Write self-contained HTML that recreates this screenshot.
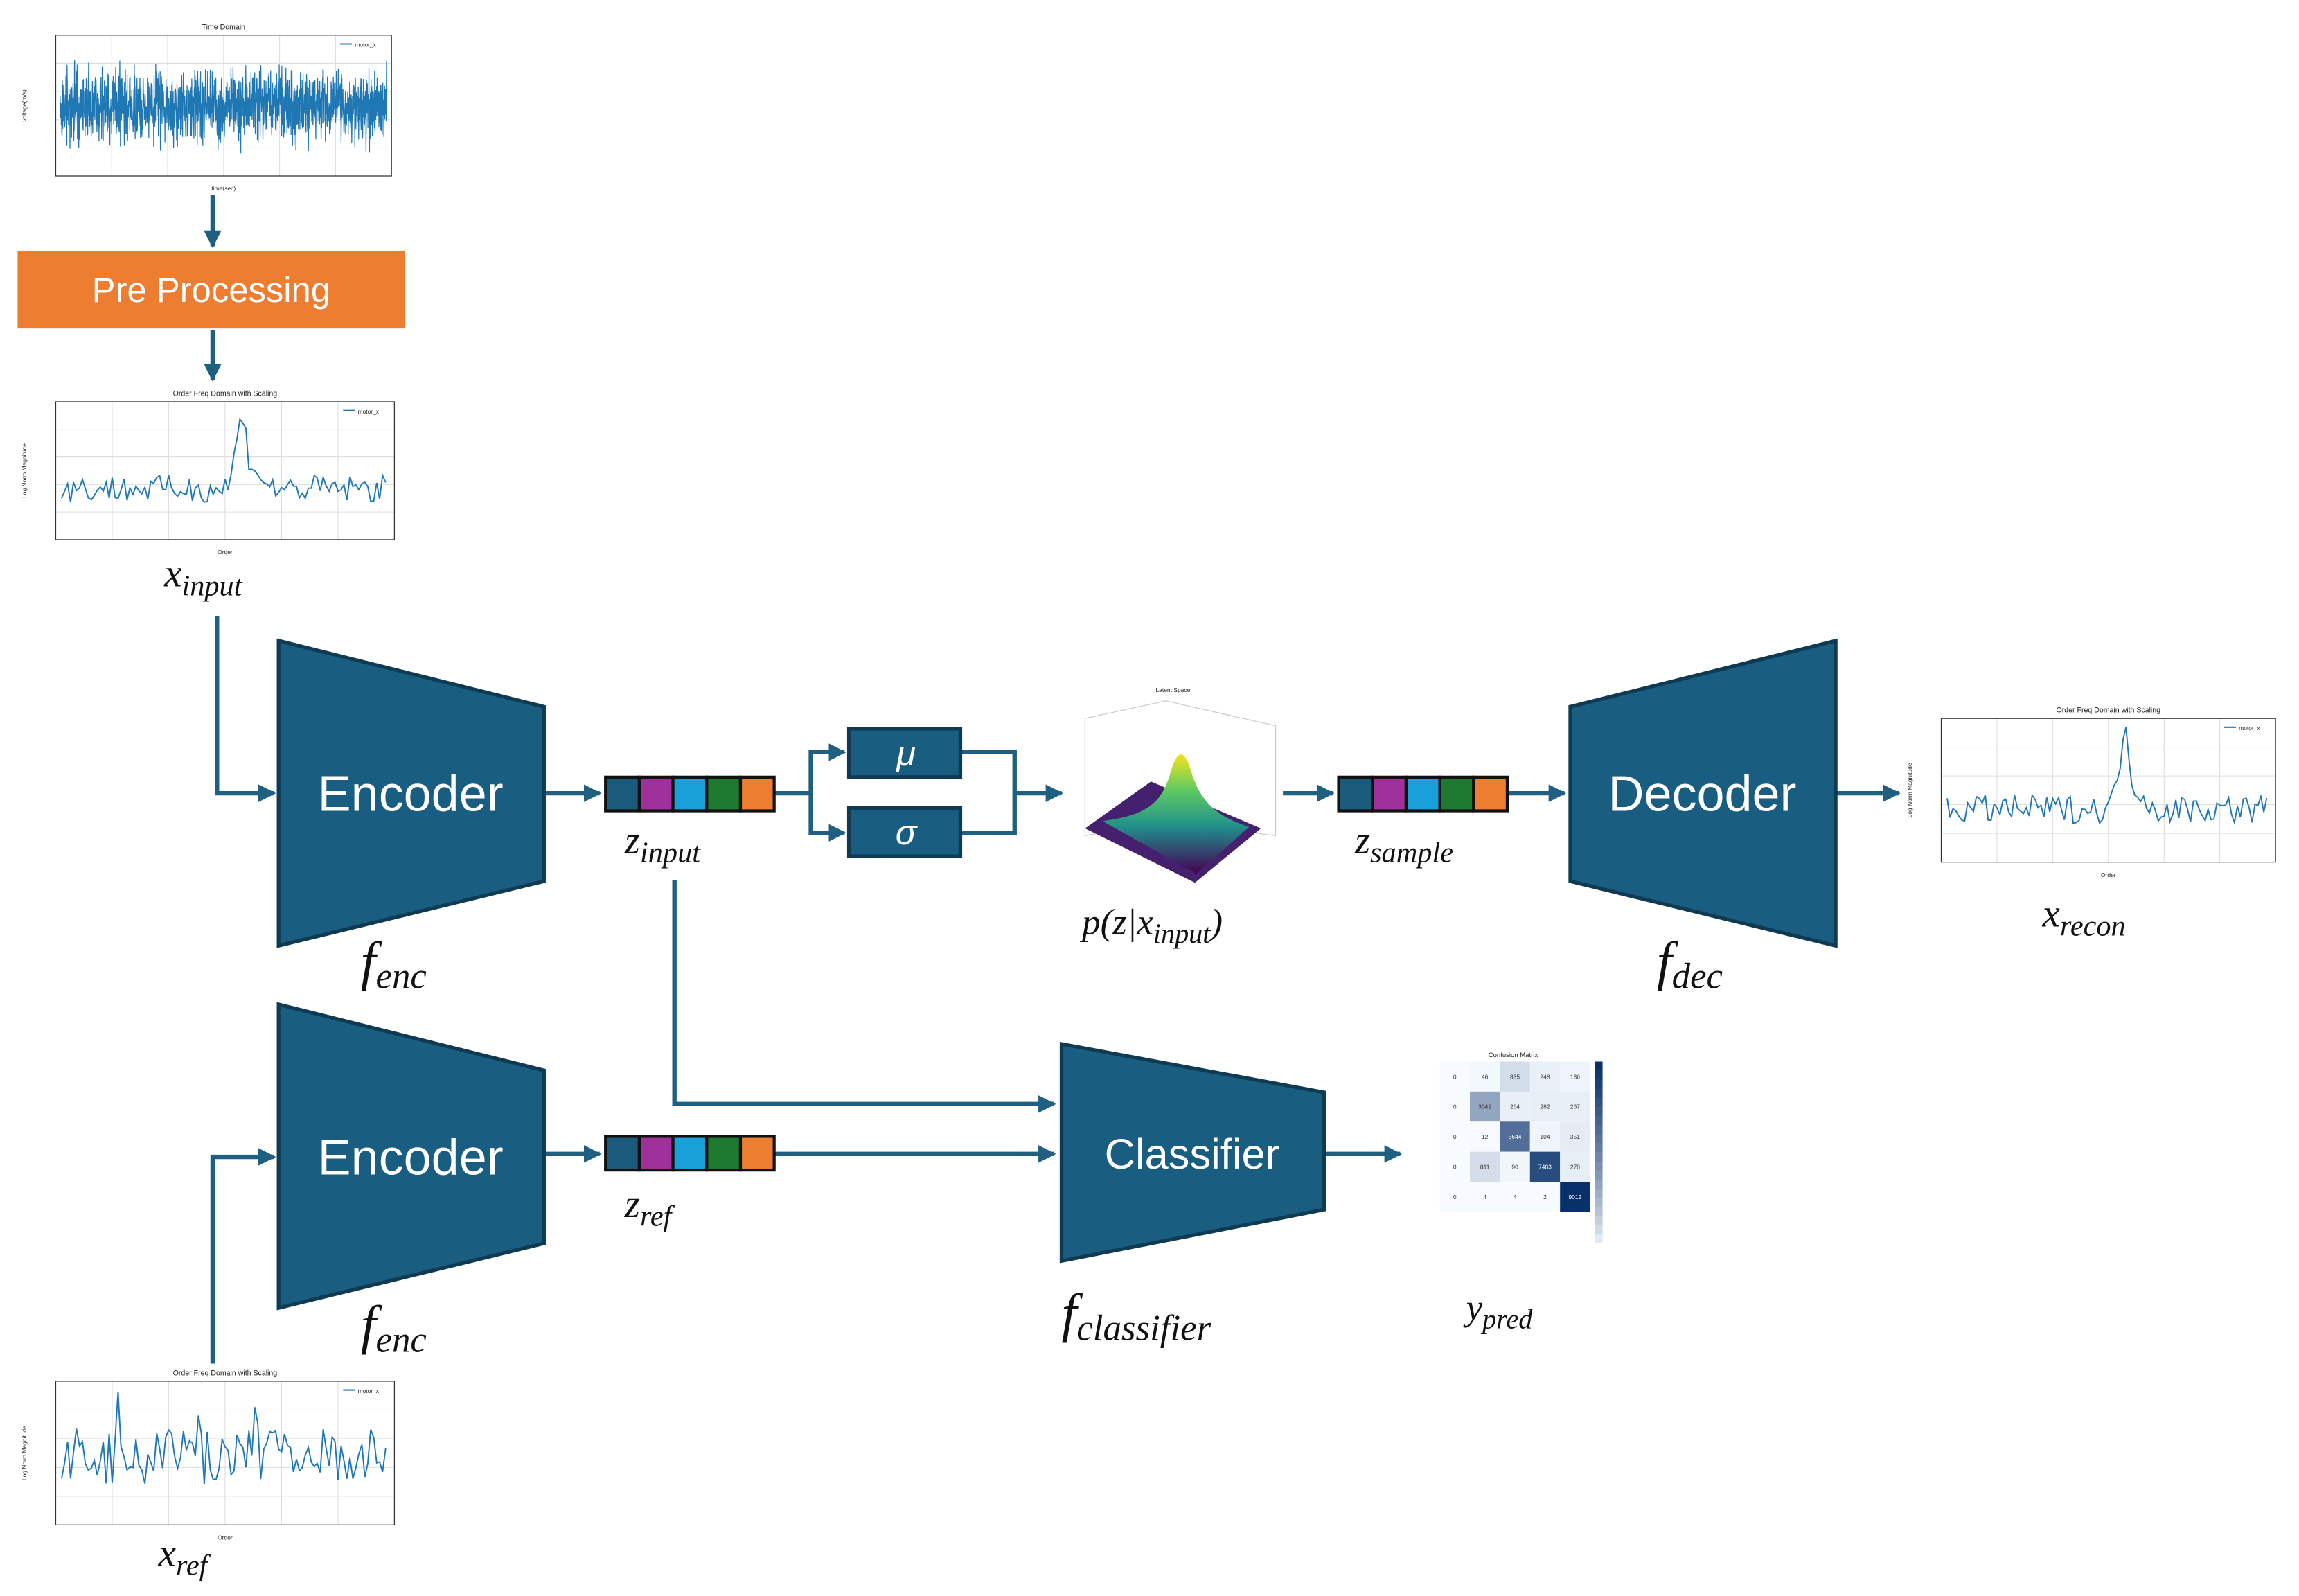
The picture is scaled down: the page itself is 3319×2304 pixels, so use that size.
<!DOCTYPE html>
<html><head><meta charset="utf-8">
<style>
html,body{margin:0;padding:0;background:#fff;}
svg{display:block;}
.m{font-family:"Liberation Serif",serif;font-style:italic;fill:#111;}
.w{font-family:"Liberation Sans",sans-serif;fill:#fff;}
.s{font-family:"Liberation Sans",sans-serif;fill:#222;}
</style></head><body>
<svg id="sv" width="3319" height="2304" viewBox="0 0 1568 1088.5" xmlns="http://www.w3.org/2000/svg">
<defs>
<marker id="ar" viewBox="0 0 10 10" refX="9" refY="5" markerWidth="4" markerHeight="4" orient="auto"><path d="M0,0L10,5L0,10z" fill="#1f5f80"/></marker>
<linearGradient id="gg" x1="0" y1="0" x2="0" y2="1"><stop offset="0" stop-color="#f2e51d"/><stop offset="0.3" stop-color="#5ec962"/><stop offset="0.6" stop-color="#21918c"/><stop offset="1" stop-color="#440154"/></linearGradient>
</defs>
<g id="plots"></g>
<g fill="none" stroke="#1f5f80" stroke-width="3">
<path d="M145,133V168" marker-end="url(#ar)"/>
<path d="M145,225V259" marker-end="url(#ar)"/>
<path d="M148,420V541H187" marker-end="url(#ar)"/>
<path d="M371,541H409" marker-end="url(#ar)"/>
<path d="M528,541H553V513H576" marker-end="url(#ar)"/>
<path d="M553,541V568H576" marker-end="url(#ar)"/>
<path d="M655,513H692V568H655M692,541H724" marker-end="url(#ar)"/>
<path d="M875,541H909" marker-end="url(#ar)"/>
<path d="M1028,541H1067" marker-end="url(#ar)"/>
<path d="M1252,541H1295" marker-end="url(#ar)"/>
<path d="M460,600V753H719" marker-end="url(#ar)"/>
<path d="M145,930V789H187" marker-end="url(#ar)"/>
<path d="M371,787H409" marker-end="url(#ar)"/>
<path d="M528,787H719" marker-end="url(#ar)"/>
<path d="M903,787H955" marker-end="url(#ar)"/>
</g>
<rect x="12" y="171" width="264" height="53" fill="#ed7d31"/>
<text x="144" y="206" text-anchor="middle" class="w" font-size="24">Pre Processing</text>
<g fill="#195e80" stroke="#0f3b52" stroke-width="2.5">
<path d="M190,437L371,482V601L190,645Z"/>
<path d="M190,685L371,730V848L190,892Z"/>
<path d="M1071,482L1252,437V645L1071,601Z"/>
<path d="M724,712L903,745V825L724,860Z"/>
<rect x="579" y="497" width="76" height="33"/>
<rect x="579" y="551" width="76" height="33"/>
</g>
<text x="280" y="553" text-anchor="middle" class="w" font-size="34">Encoder</text>
<text x="280" y="801" text-anchor="middle" class="w" font-size="34">Encoder</text>
<text x="1161" y="553" text-anchor="middle" class="w" font-size="34">Decoder</text>
<text x="813" y="797" text-anchor="middle" class="w" font-size="29">Classifier</text>
<text x="618" y="522" text-anchor="middle" class="w" font-size="24" font-style="italic" font-family="Liberation Serif">μ</text>
<text x="618" y="576" text-anchor="middle" class="w" font-size="24" font-style="italic" font-family="Liberation Serif">σ</text>
<g id="vecs"></g>
<g class="m">
<text x="112" y="400" font-size="27">x<tspan font-size="20" dy="6">input</tspan></text>
<text x="246" y="668" font-size="37">f<tspan font-size="25" dy="6">enc</tspan></text>
<text x="246" y="916" font-size="37">f<tspan font-size="25" dy="6">enc</tspan></text>
<text x="1130" y="668" font-size="37">f<tspan font-size="25" dy="6">dec</tspan></text>
<text x="724" y="908" font-size="37">f<tspan font-size="25" dy="6">classifier</tspan></text>
<text x="426" y="582" font-size="27">z<tspan font-size="20" dy="6">input</tspan></text>
<text x="426" y="830" font-size="27">z<tspan font-size="20" dy="6">ref</tspan></text>
<text x="924" y="582" font-size="27">z<tspan font-size="20" dy="6">sample</tspan></text>
<text x="738" y="637" font-size="25">p(z|x<tspan font-size="19" dy="6">input</tspan><tspan dy="-6">)</tspan></text>
<text x="1393" y="632" font-size="27">x<tspan font-size="20" dy="6">recon</tspan></text>
<text x="108" y="1068" font-size="27">x<tspan font-size="20" dy="6">ref</tspan></text>
<text x="1000" y="900" font-size="25">y<tspan font-size="19" dy="6">pred</tspan></text>
</g>
<g id="lat"></g>
<g id="cm"></g>
</svg>
<script>
var NS="http://www.w3.org/2000/svg";
function el(p,t,a,txt){var e=document.createElementNS(NS,t);for(var k in a)e.setAttribute(k,a[k]);if(txt!==undefined)e.textContent=txt;p.appendChild(e);return e;}
var seed=7;function rnd(){seed=(seed*16807)%2147483647;return seed/2147483647;}
var P=document.getElementById("plots");
function plot(x,y,w,h,title,type,xl,yl){
 var ax=x+26,ay=y+12,aw=w-32,ah=h-24;
 el(P,"rect",{x:x,y:y,width:w,height:h,fill:"#fff"});
 el(P,"text",{x:ax+aw/2,y:y+8,"font-size":5,"text-anchor":"middle",class:"s"},title);
 for(var i=0;i<=6;i++){var gx=ax+aw*i/6;el(P,"line",{x1:gx,y1:ay,x2:gx,y2:ay+ah,stroke:"#ddd","stroke-width":0.5});}
 for(var i=0;i<=5;i++){var gy=ay+ah*i/5;el(P,"line",{x1:ax,y1:gy,x2:ax+aw,y2:gy,stroke:"#ddd","stroke-width":0.5});}
 el(P,"rect",{x:ax,y:ay,width:aw,height:ah,fill:"none",stroke:"#333","stroke-width":0.6});
 el(P,"line",{x1:ax+aw-35,y1:ay+6,x2:ax+aw-27,y2:ay+6,stroke:"#1f77b4","stroke-width":1});
 el(P,"text",{x:ax+aw-25,y:ay+8,"font-size":4,class:"s"},"motor_x");
 el(P,"text",{x:ax+aw/2,y:y+h-2,"font-size":4,"text-anchor":"middle",class:"s"},xl);
 el(P,"text",{x:x+6,y:ay+ah/2,"font-size":4,"text-anchor":"middle",class:"s",transform:"rotate(-90 "+(x+6)+" "+(ay+ah/2)+")"},yl);
 var d="";
 if(type==0){var n=1600;for(var i=0;i<n;i++){var v=(rnd()+rnd()+rnd()-1.5)*0.45;d+=(i?"L":"M")+(ax+3+(aw-6)*i/n).toFixed(1)+","+(ay+ah*0.5+v*ah*0.55).toFixed(1);}
  el(P,"path",{d:d,fill:"none",stroke:"#1f77b4","stroke-width":0.6});}
 else{var n=110;for(var i=0;i<n;i++){var t=i/n;var v=0.3+rnd()*0.22+0.55*Math.exp(-Math.pow((t-0.55)/0.025,2))+0.15*Math.exp(-Math.pow((t-0.6)/0.02,2));if(type==2)v=0.3+rnd()*0.45+ (rnd()<0.06?0.3:0);d+=(i?"L":"M")+(ax+4+(aw-8)*t).toFixed(1)+","+(ay+ah-(v*ah*0.9)).toFixed(1);}
  el(P,"path",{d:d,fill:"none",stroke:"#1f77b4","stroke-width":0.9});}
}
plot(12,12,261,120,"Time Domain",0,"time(sec)","voltage(m/s)");
plot(12,262,263,118,"Order Freq Domain with Scaling",1,"Order","Log Norm Magnitude");
plot(1298,478,260,122,"Order Freq Domain with Scaling",1,"Order","Log Norm Magnitude");
plot(12,930,263,122,"Order Freq Domain with Scaling",2,"Order","Log Norm Magnitude");
var V=document.getElementById("vecs");
var cols=["#1a5a7a","#a0309a","#1aa0d8","#1e7a30","#ed7d31"];
[[413,530],[913,530],[413,775]].forEach(function(p){for(var i=0;i<5;i++)el(V,"rect",{x:p[0]+i*23,y:p[1],width:23,height:23,fill:cols[i],stroke:"#111","stroke-width":2});});
var L=document.getElementById("lat");
el(L,"text",{x:800,y:472,"font-size":4,"text-anchor":"middle",class:"s"},"Latent Space");
el(L,"path",{d:"M740,490L795,478L870,495L870,570L795,560L740,570Z",fill:"none",stroke:"#ccc","stroke-width":0.6});
el(L,"path",{d:"M740,565L815,602L860,565L785,533Z",fill:"#45206e"});
el(L,"path",{d:"M752,560C782,556 792,548 798,528C803,510 808,510 813,528C820,550 834,558 852,564L816,596Z",fill:"url(#gg)"});
var C=document.getElementById("cm");
el(C,"text",{x:1032,y:721,"font-size":4.5,"text-anchor":"middle",class:"s"},"Confusion Matrix");
var cx=982,cy=724,cs=20.5;
function blue(v){var a=[247,251,255],b=[8,48,107];v=Math.pow(v,0.8);return "rgb("+Math.round(a[0]+(b[0]-a[0])*v)+","+Math.round(a[1]+(b[1]-a[1])*v)+","+Math.round(a[2]+(b[2]-a[2])*v)+")";}
var vals=[[0,46,835,248,136],[0,3049,264,282,267],[0,12,5644,104,351],[0,811,90,7483,278],[0,4,4,2,9012]];
for(var r=0;r<5;r++)for(var c=0;c<5;c++){var v=vals[r][c]/9012;
 el(C,"rect",{x:cx+c*cs,y:cy+r*cs,width:cs,height:cs,fill:blue(v)});
 el(C,"text",{x:cx+c*cs+cs/2,y:cy+r*cs+cs/2+1.5,"font-size":4,"text-anchor":"middle",fill:v>0.45?"#fff":"#333","font-family":"Liberation Sans"},vals[r][c]);}
for(var i=0;i<20;i++){el(C,"rect",{x:1088,y:cy+i*6.2,width:5,height:6.3,fill:blue(1-i/20)});}
</script>
</body></html>
